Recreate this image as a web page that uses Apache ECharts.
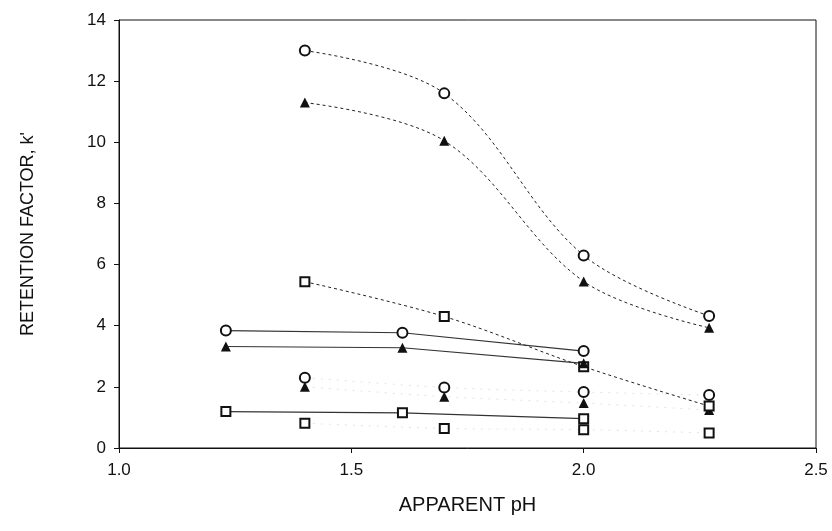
<!DOCTYPE html>
<html>
<head>
<meta charset="utf-8">
<script src="https://cdn.jsdelivr.net/npm/echarts@6/dist/echarts.min.js"></script>
<style>html,body{margin:0;padding:0;background:#fff}#c{width:832px;height:531px}</style>
</head>
<body>
<div id="c"></div>
<script>
// Dashed (smooth) series
var dashCircle   = [[1.40, 13.0], [1.70, 11.6], [2.00, 6.3], [2.27, 4.32]];
var dashTriangle = [[1.40, 11.3], [1.70, 10.05], [2.00, 5.45], [2.27, 3.93]];
var dashSquare   = [[1.40, 5.44], [1.70, 4.30], [2.00, 2.66], [2.27, 1.37]];
// Solid series
var solidCircle   = [[1.23, 3.84], [1.61, 3.77], [2.00, 3.17]];
var solidTriangle = [[1.23, 3.32], [1.61, 3.28], [2.00, 2.77]];
var solidSquare   = [[1.23, 1.19], [1.61, 1.15], [2.00, 0.96]];
// Faint dotted series
var faintCircle   = [[1.40, 2.30], [1.70, 1.98], [2.00, 1.83], [2.27, 1.73]];
var faintTriangle = [[1.40, 2.00], [1.70, 1.68], [2.00, 1.47], [2.27, 1.24]];
var faintSquare   = [[1.40, 0.81], [1.70, 0.64], [2.00, 0.60], [2.27, 0.49]];

var font = '"Liberation Sans", Arial, sans-serif';
var ink = '#111';

function mk(sym) {
  if (sym === 'circle') return {symbol: 'emptyCircle', symbolSize: 10, itemStyle: {color: ink, borderColor: ink, borderWidth: 1}};
  if (sym === 'triangle') return {symbol: 'triangle', symbolSize: 10, itemStyle: {color: ink, borderColor: ink, borderWidth: 0}};
  return {symbol: 'emptyRect', symbolSize: 9, itemStyle: {color: ink, borderColor: ink, borderWidth: 1}};
}
function series(data, sym, style) {
  var s = mk(sym);
  var o = {type: 'line', data: data, symbol: s.symbol, symbolSize: s.symbolSize, itemStyle: s.itemStyle, animation: false, z: 3};
  if (style === 'dash') { o.smooth = 0.35; o.lineStyle = {color: '#222', width: 1, type: [3, 3]}; }
  else if (style === 'solid') { o.lineStyle = {color: '#333', width: 1.2, type: 'solid'}; }
  else { o.smooth = 0.3; o.lineStyle = {color: '#e4e4e4', width: 1, type: [2, 6]}; o.z = 2; }
  return o;
}

var chart = echarts.init(document.getElementById('c'), null, {renderer: 'canvas'});
chart.setOption({
  backgroundColor: '#fff',
  grid: {left: 119, right: 16, top: 20, bottom: 83, show: true, borderColor: ink, borderWidth: 1},
  xAxis: {
    type: 'value', min: 1.0, max: 2.5, interval: 0.5,
    name: 'APPARENT pH', nameLocation: 'middle', nameGap: 47,
    nameTextStyle: {fontFamily: font, fontSize: 20, color: ink},
    axisLine: {show: true, lineStyle: {color: ink, width: 1}},
    axisTick: {show: true, inside: false, length: 5, lineStyle: {color: ink}},
    axisLabel: {fontFamily: font, fontSize: 17, color: ink, margin: 14, formatter: function (v) { return v.toFixed(1); }},
    splitLine: {show: false}
  },
  yAxis: {
    type: 'value', min: 0, max: 14, interval: 2,
    name: "RETENTION FACTOR, k'", nameLocation: 'middle', nameGap: 82,
    nameTextStyle: {fontFamily: font, fontSize: 18, color: ink},
    axisLine: {show: true, lineStyle: {color: ink, width: 1}},
    axisTick: {show: true, inside: false, length: 5, lineStyle: {color: ink}},
    axisLabel: {fontFamily: font, fontSize: 17, color: ink, margin: 13},
    splitLine: {show: false}
  },
  series: [
    series(faintCircle, 'circle', 'faint'),
    series(faintTriangle, 'triangle', 'faint'),
    series(faintSquare, 'square', 'faint'),
    series(dashCircle, 'circle', 'dash'),
    series(dashTriangle, 'triangle', 'dash'),
    series(dashSquare, 'square', 'dash'),
    series(solidCircle, 'circle', 'solid'),
    series(solidTriangle, 'triangle', 'solid'),
    series(solidSquare, 'square', 'solid')
  ]
});
</script>
</body>
</html>
